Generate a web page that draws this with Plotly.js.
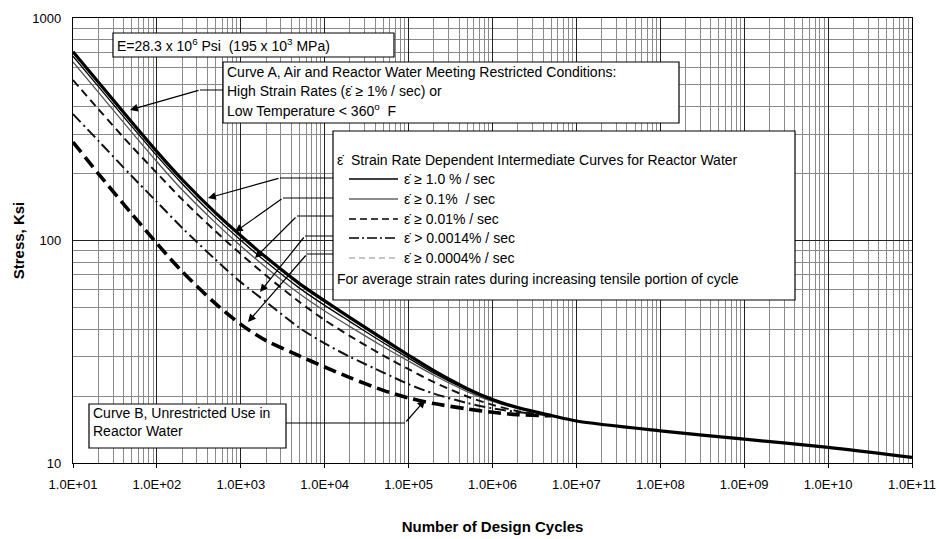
<!DOCTYPE html>
<html>
<head>
<meta charset="utf-8">
<script src="https://cdn.plot.ly/plotly-3.0.1.min.js"></script>
<style>html,body{margin:0;padding:0;background:#fff;}#chart{width:939px;height:539px;}</style>
</head>
<body>
<div id="chart"></div>
<script>
// ---------------- data ----------------
const cycles = [10, 20, 50, 100, 200, 500, 1e3, 2e3, 5e3, 1e4, 2e4, 5e4, 1e5, 2e5, 5e5, 1e6, 2e6, 5e6, 1e7, 1e8, 1e9, 1e10, 1e11];
const curveA = [705, 516, 341, 251, 188, 133, 105, 84, 64, 53.5, 45, 36, 30.5, 26, 21.6, 19.3, 17.75, 16.35, 15.45, 13.95, 12.8, 11.75, 10.6];

const cyclesMid = [10, 20, 50, 100, 200, 500, 1e3, 2e3, 5e3, 1e4, 2e4, 5e4, 1e5, 2e5, 5e5, 1e6, 2e6, 5e6];
const rate1p0    = [673, 493, 326, 240, 180, 127, 100.3, 80.2, 61.1, 51.1, 43.2, 34.7, 29.6, 25.35, 21.3, 19.1, 17.66, 16.35];
const rate0p1    = [634, 464, 307, 226, 169, 120, 94.5, 75.6, 57.6, 48.2, 41, 33.3, 28.7, 24.8, 20.95, 18.9, 17.57, 16.35];
const rate0p01   = [526, 390, 265, 201, 153, 110, 86.9, 69.6, 52.9, 43.9, 37.2, 30.4, 26.4, 23.1, 19.9, 18.25, 17.1, 16.35];
const rate0p0014 = [370, 281, 195, 149, 114, 82, 65, 53, 40.5, 34.5, 30, 25.5, 22.6, 20.5, 18.6, 17.6, 16.95, 16.35];
const curveB     = [277, 200, 132, 97, 72.5, 52, 42, 35.5, 30.3, 27, 24.2, 21.2, 19.6, 18.5, 17.5, 16.9, 16.5, 16.3];

const xTickVals = [1e1, 1e2, 1e3, 1e4, 1e5, 1e6, 1e7, 1e8, 1e9, 1e10, 1e11];
const xTickText = ['1.0E+01','1.0E+02','1.0E+03','1.0E+04','1.0E+05','1.0E+06','1.0E+07','1.0E+08','1.0E+09','1.0E+10','1.0E+11'];
const yTickVals = [10, 100, 1000];
const yTickText = ['10', '100', '1000'];

const ed = 'ε\u0307';
const legendEntries = [ed + ' ≥ 1.0 % / sec', ed + ' ≥ 0.1%  / sec', ed + ' ≥ 0.01% / sec', ed + ' > 0.0014% / sec', ed + ' ≥ 0.0004% / sec'];

// ---------------- layout helpers (pixel -> paper) ----------------
const L = 73, R = 912, T = 18, B = 463;
const px = x => (x - L) / (R - L);
const py = y => (B - y) / (B - T);
const FONT = 'Liberation Sans, Arial, sans-serif';

function tr(x, y, dash, width, color) {
  return {x: x, y: y, type: 'scatter', mode: 'lines', hoverinfo: 'skip', showlegend: false,
          line: {color: color, width: width, dash: dash, shape: 'spline', smoothing: 0.8}};
}

const traces = [
  tr(cyclesMid, curveB, '13px,6px', 3.6, '#000'),
  tr(cyclesMid, rate0p0014, '11px,4px,2px,4px', 2, '#111'),
  tr(cyclesMid, rate0p01, '8px,5px', 2, '#111'),
  tr(cyclesMid, rate0p1, 'solid', 1.3, '#555'),
  tr(cyclesMid, rate1p0, 'solid', 1.3, '#000'),
  tr(cycles, curveA, 'solid', 3.2, '#000')
];

const shapes = [];
const annotations = [];
function box(x0, y0, x1, y1) {
  shapes.push({type: 'rect', xref: 'paper', yref: 'paper', x0: px(x0), x1: px(x1), y0: py(y1), y1: py(y0),
               fillcolor: '#fff', line: {color: '#000', width: 1.2}, layer: 'above'});
}
function seg(x0, y0, x1, y1, color, width, dash) {
  shapes.push({type: 'line', xref: 'paper', yref: 'paper', x0: px(x0), x1: px(x1), y0: py(y0), y1: py(y1),
               line: {color: color || '#000', width: width || 1, dash: dash || 'solid'}, layer: 'above'});
}
function txt(x, y, t) {
  annotations.push({xref: 'paper', yref: 'paper', x: px(x), y: py(y), xanchor: 'left', yanchor: 'middle',
                    text: t, showarrow: false, font: {family: FONT, size: 14, color: '#000'}});
}
function arrow(tailX, tailY, tipX, tipY) {
  annotations.push({xref: 'paper', yref: 'paper', x: px(tipX), y: py(tipY), ax: tailX - tipX, ay: tailY - tipY,
                    text: '', showarrow: true, arrowhead: 2, arrowsize: 1.3, arrowwidth: 1.2, arrowcolor: '#000'});
}

// leader lines
seg(200, 90, 223, 90); arrow(200, 90, 130, 110);
const leadY = [178, 198, 216, 236, 254];
const leadX = [280, 283, 297, 305, 307];
const tips = [[208, 198], [235, 232], [255, 258], [260, 292], [248, 322]];
for (let i = 0; i < 5; i++) { seg(leadX[i], leadY[i], 333, leadY[i]); arrow(leadX[i], leadY[i], tips[i][0], tips[i][1]); }
seg(286, 423, 405, 423); arrow(405, 423, 425, 400);

// boxes
box(113, 33, 394, 57);
box(223, 62, 679, 123);
box(333, 131, 795, 300);
box(89, 404, 286, 448);

// texts
txt(115, 45, 'E=28.3 x 10<sup>6</sup> Psi  (195 x 10<sup>3</sup> MPa)');
txt(225, 72, 'Curve A, Air and Reactor Water Meeting Restricted Conditions:');
txt(225, 91, 'High Strain Rates (' + ed + ' ≥ 1% / sec) or');
txt(225, 110, 'Low Temperature < 360<sup>o</sup>  F');
txt(335, 160, ed + '  Strain Rate Dependent Intermediate Curves for Reactor Water');
const entryY = [179, 199, 219, 238, 258];
const sampleStyle = [['solid', '#000', 1.3], ['solid', '#666', 1.3], ['7px,4px', '#000', 1.6], ['10px,3px,2px,3px', '#000', 1.6], ['6px,4px', '#888', 1.2]];
for (let i = 0; i < 5; i++) {
  seg(349, entryY[i], 398, entryY[i], sampleStyle[i][1], sampleStyle[i][2], sampleStyle[i][0]);
  txt(402, entryY[i], legendEntries[i]);
}
txt(335, 279, 'For average strain rates during increasing tensile portion of cycle');
txt(91, 413, 'Curve B, Unrestricted Use in');
txt(91, 431, 'Reactor Water');

const layout = {
  width: 939, height: 539,
  margin: {l: L, r: 939 - R, t: T, b: 539 - B},
  paper_bgcolor: '#fff', plot_bgcolor: '#fff',
  showlegend: false,
  font: {family: FONT, color: '#000'},
  xaxis: {
    type: 'log', range: [1, 11], tickmode: 'array', tickvals: xTickVals, ticktext: xTickText,
    showgrid: true, gridcolor: '#222', gridwidth: 1,
    minor: {showgrid: true, gridcolor: '#8a8a8a', gridwidth: 1, dtick: 'D1', ticks: ''},
    ticks: 'outside', ticklen: 4, tickcolor: '#000', ticklabelstandoff: 5,
    showline: true, linecolor: '#000', linewidth: 1.2, mirror: true, zeroline: false,
    tickfont: {family: FONT, size: 13, color: '#000'},
    title: {text: '<b>Number of Design Cycles</b>', font: {family: FONT, size: 15, color: '#000'}, standoff: 30}
  },
  yaxis: {
    type: 'log', range: [1, 3], tickmode: 'array', tickvals: yTickVals, ticktext: yTickText,
    showgrid: true, gridcolor: '#222', gridwidth: 1,
    minor: {showgrid: true, gridcolor: '#8a8a8a', gridwidth: 1, dtick: 'D1', ticks: ''},
    ticks: '', ticklabelstandoff: 8,
    showline: true, linecolor: '#000', linewidth: 1.2, mirror: true, zeroline: false,
    tickfont: {family: FONT, size: 13, color: '#000'},
    title: {text: '<b>Stress, Ksi</b>', font: {family: FONT, size: 15, color: '#000'}, standoff: 4}
  },
  shapes: shapes,
  annotations: annotations
};

Plotly.newPlot('chart', traces, layout, {staticPlot: true, displayModeBar: false});
</script>
</body>
</html>
